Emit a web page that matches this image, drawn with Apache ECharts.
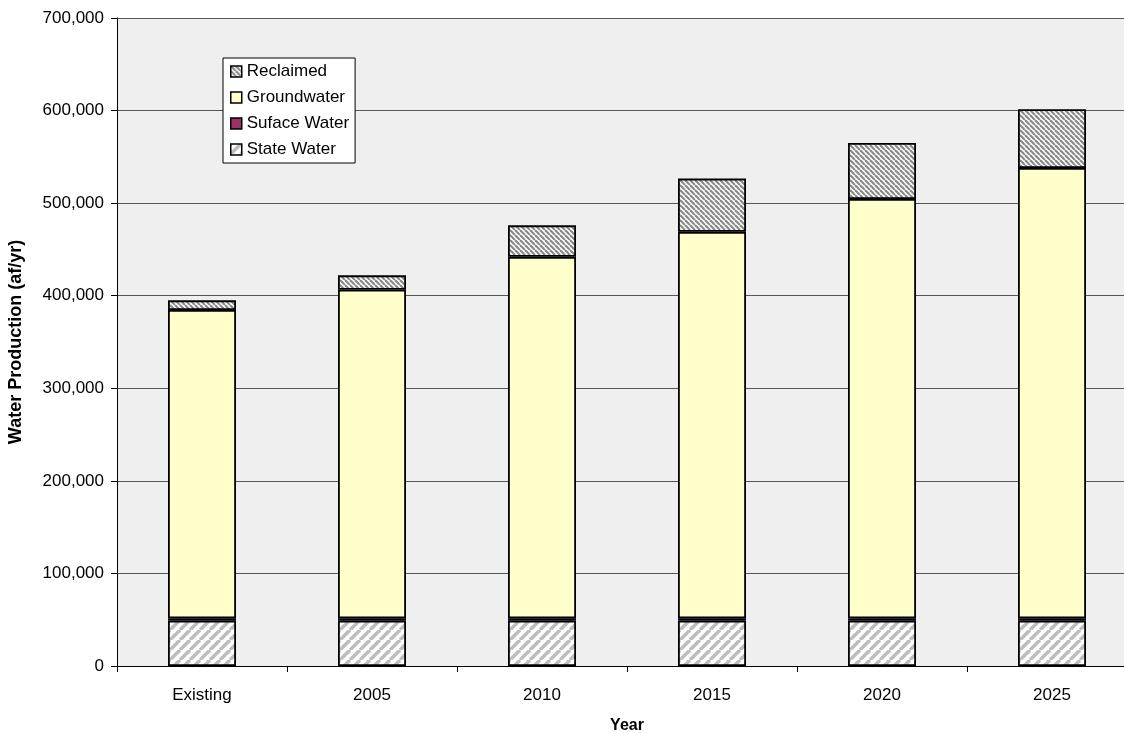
<!DOCTYPE html>
<html><head><meta charset="utf-8">
<script src="https://cdn.jsdelivr.net/npm/echarts@6/dist/echarts.min.js"></script>
<style>html,body{margin:0;padding:0;background:#fff}#c{width:1124px;height:733px}</style>
</head><body><div id="c"></div>
<script>
const categories = ['Existing', '2005', '2010', '2015', '2020', '2025'];
const stateWater = [49000, 49000, 49000, 49000, 49000, 49000];
const surfaceWater = [2500, 2500, 2500, 2500, 2500, 2500];
const groundwater = [333000, 355000, 390500, 417500, 453000, 486500];
const reclaimed = [10500, 15500, 34000, 57500, 60500, 63500];

function stripes(size, lineW, color, dir) {
  const c = document.createElement('canvas');
  c.width = size; c.height = size;
  const g = c.getContext('2d');
  g.fillStyle = '#fff'; g.fillRect(0, 0, size, size);
  g.strokeStyle = color; g.lineWidth = lineW;
  for (let k = -1; k <= 1; k++) {
    g.beginPath();
    if (dir === '/') { g.moveTo(k * size, size); g.lineTo(k * size + size, 0); }
    else { g.moveTo(k * size, 0); g.lineTo(k * size + size, size); }
    g.stroke();
  }
  return c;
}
const statePat = { image: stripes(10, 3.5, '#bdbdbd', '/'), repeat: 'repeat' };
const reclPat = { image: stripes(5, 2.2, '#8a8a8a', '\\'), repeat: 'repeat' };

const chart = echarts.init(document.getElementById('c'));
const font = 'Arial, "Liberation Sans", sans-serif';
const border = { borderColor: '#000', borderWidth: 1.8 };
chart.setOption({
  animation: false,
  textStyle: { fontFamily: font },
  grid: { left: 117, top: 18, width: 1020, height: 648, backgroundColor: '#efefef', show: true, borderWidth: 0, containLabel: false, outerBoundsMode: 'none' },
  legend: {
    orient: 'vertical', left: 223, top: 58,
    data: ['Reclaimed', 'Groundwater', 'Suface Water', 'State Water'],
    icon: 'rect',
    backgroundColor: '#fff', borderColor: '#000', borderWidth: 1,
    padding: [5, 6, 5, 7], itemGap: 9, itemWidth: 11, itemHeight: 11,
    textStyle: { fontSize: 17, color: '#000', fontFamily: font },
    itemStyle: { borderColor: '#000', borderWidth: 1.5 }
  },
  xAxis: {
    type: 'category', data: categories,
    name: 'Year', nameLocation: 'middle', nameGap: 52,
    nameTextStyle: { fontWeight: 'bold', fontSize: 16, color: '#000' },
    axisLine: { lineStyle: { color: '#000', width: 1 } },
    axisTick: { show: true, length: 6, lineStyle: { color: '#000' } },
    axisLabel: { fontSize: 17, color: '#000', margin: 21 }
  },
  yAxis: {
    type: 'value', min: 0, max: 700000, interval: 100000,
    name: 'Water Production (af/yr)', nameLocation: 'middle', nameGap: 92,
    nameTextStyle: { fontWeight: 'bold', fontSize: 18, color: '#000' },
    axisLine: { show: true, lineStyle: { color: '#000', width: 1 } },
    axisTick: { show: true, length: 6, lineStyle: { color: '#000' } },
    axisLabel: { fontSize: 17, color: '#000', margin: 13, formatter: v => v.toLocaleString('en-US') },
    splitLine: { lineStyle: { color: '#555', width: 1 } }
  },
  series: [
    { name: 'State Water', type: 'bar', stack: 't', barWidth: '40%', data: stateWater, itemStyle: Object.assign({ color: statePat }, border) },
    { name: 'Suface Water', type: 'bar', stack: 't', data: surfaceWater, itemStyle: Object.assign({ color: '#993366' }, border) },
    { name: 'Groundwater', type: 'bar', stack: 't', data: groundwater, itemStyle: Object.assign({ color: '#ffffcc' }, border) },
    { name: 'Reclaimed', type: 'bar', stack: 't', data: reclaimed, itemStyle: Object.assign({ color: reclPat }, border) }
  ]
});
</script></body></html>
